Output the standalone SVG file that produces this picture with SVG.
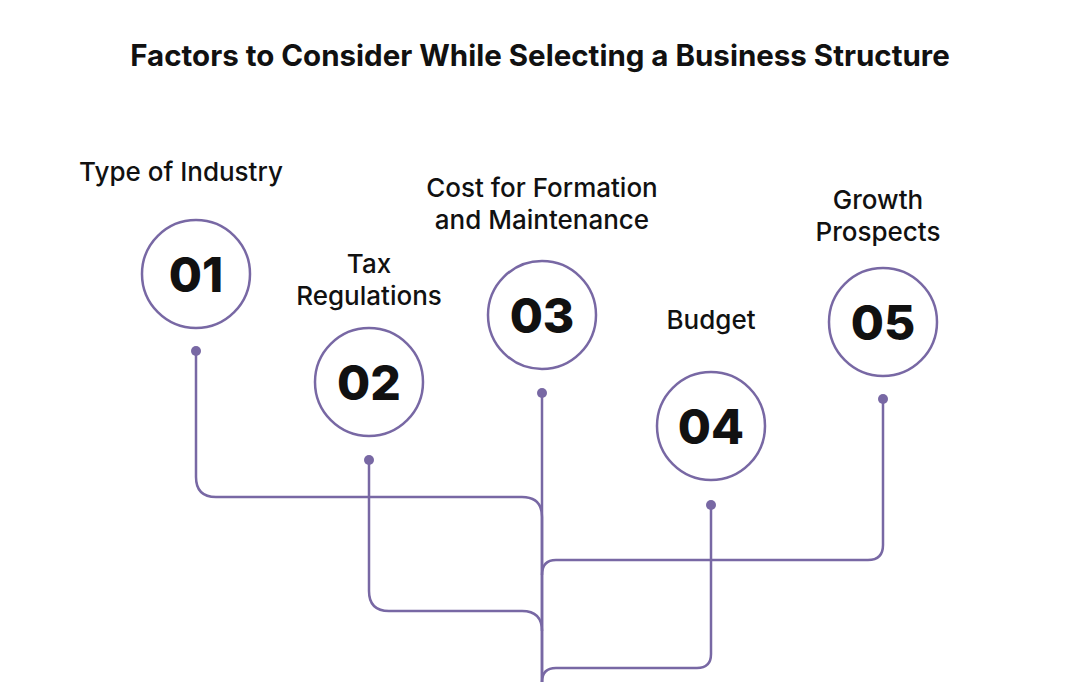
<svg xmlns="http://www.w3.org/2000/svg" width="1080" height="682" viewBox="0 0 1080 682">
<style>
.c{fill:#fff;stroke:#7868a4;stroke-width:2.5}
.n{font-family:Inter,"Liberation Sans",sans-serif;font-weight:800;font-size:48px;fill:#111;text-anchor:middle}
.l{font-family:Inter,"Liberation Sans",sans-serif;font-weight:500;font-size:26px;fill:#111;text-anchor:middle}
.ln{fill:none;stroke:#7868a4;stroke-width:2.5}
.d{fill:#7868a4}
</style>
<rect width="1080" height="682" fill="#fff"/>
<text x="540" y="66" font-family="Inter,'Liberation Sans',sans-serif" font-weight="700" font-size="29.5" text-anchor="middle" fill="#111">Factors to Consider While Selecting a Business Structure</text>
<g id="connectors">
<path class="ln" d="M196,351 V477 Q196,497 216,497 H522 Q542,497 542,517 V682"/>
<path class="ln" d="M542,393 V682"/>
<path class="ln" d="M883,399 V545 Q883,560 868,560 H556 Q542,560 542,575"/>
<path class="ln" d="M369,460 V591 Q369,611 389,611 H522 Q542,611 542,631"/>
<path class="ln" d="M711,505 V654 Q711,668 697,668 H556 Q542,668 542,682"/>
</g>
<g id="n1"><circle class="c" cx="196" cy="274" r="54"/><text class="n" x="196" y="292">01</text><circle class="d" cx="196" cy="351" r="5"/><text class="l" x="181" y="181">Type of Industry</text></g>
<g id="n2"><circle class="c" cx="369" cy="382" r="54"/><text class="n" x="369" y="400">02</text><circle class="d" cx="369" cy="460" r="5"/><text class="l" x="369" y="273">Tax</text><text class="l" x="369" y="305">Regulations</text></g>
<g id="n3"><circle class="c" cx="542" cy="315" r="54"/><text class="n" x="542" y="333">03</text><circle class="d" cx="542" cy="393" r="5"/><text class="l" x="542" y="197">Cost for Formation</text><text class="l" x="542" y="229">and Maintenance</text></g>
<g id="n4"><circle class="c" cx="711" cy="426" r="54"/><text class="n" x="711" y="444">04</text><circle class="d" cx="711" cy="505" r="5"/><text class="l" x="711" y="329">Budget</text></g>
<g id="n5"><circle class="c" cx="883" cy="322" r="54"/><text class="n" x="883" y="340">05</text><circle class="d" cx="883" cy="399" r="5"/><text class="l" x="878" y="209">Growth</text><text class="l" x="878" y="241">Prospects</text></g>
</svg>
